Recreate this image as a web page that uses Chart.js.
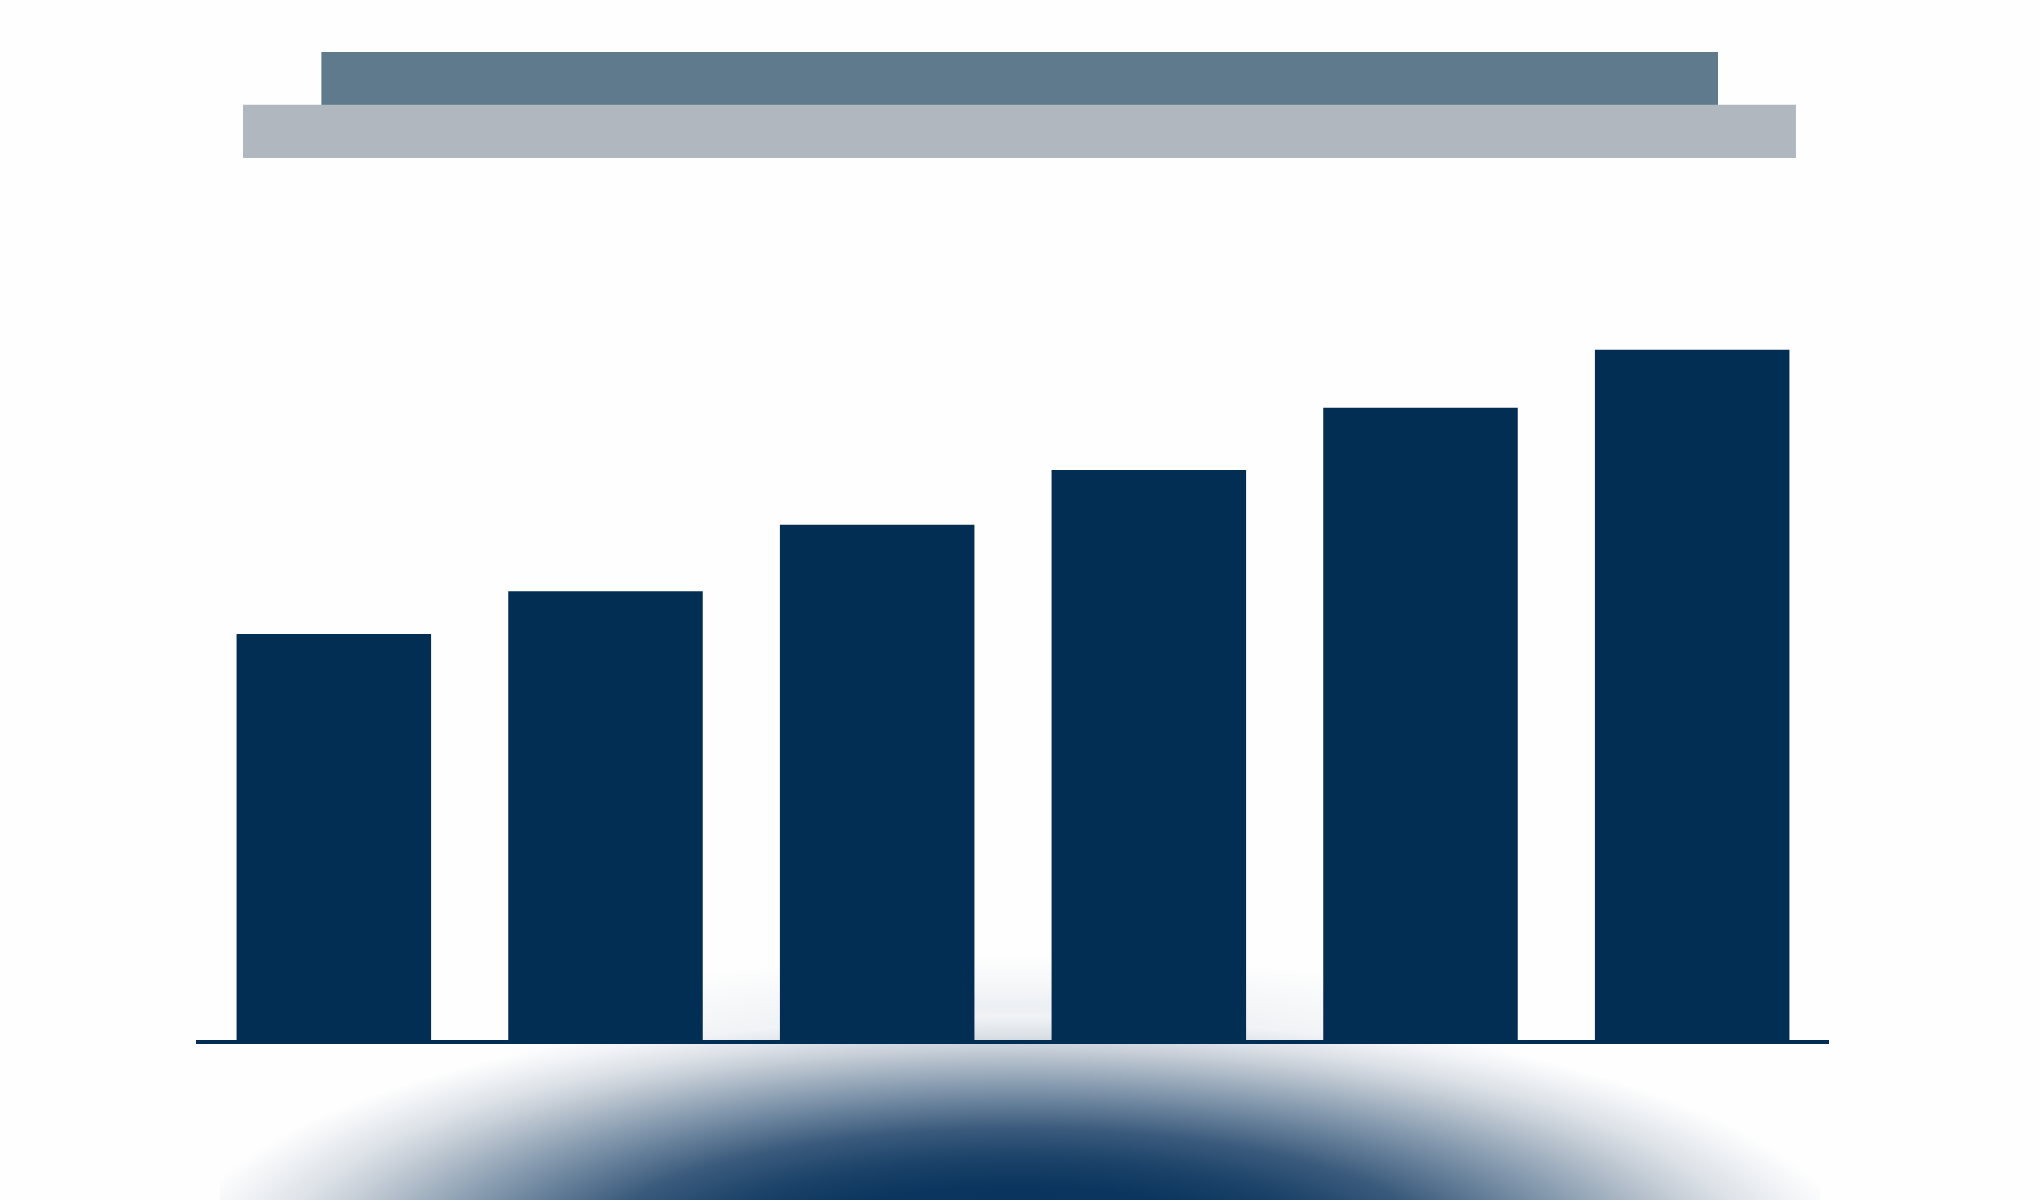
<!DOCTYPE html>
<html>
<head>
<meta charset="utf-8">
<script src="https://cdn.jsdelivr.net/npm/chart.js@4.4.1/dist/chart.umd.min.js"></script>
<style>
  html, body { margin: 0; padding: 0; background: #fefefe; }
  #page { position: relative; width: 2040px; height: 1200px; overflow: hidden; }
  #shadow {
    position: absolute; left: 220px; top: 900px; width: 1600px; height: 300px;
    background:
      radial-gradient(ellipse 845px 262px at 796px 365px,
        #08305a 0%, #0b355e 30%, #1c4369 41%, #3a5a7c 52%, #8398ad 68%,
        #c5cdd6 82%, #dde2e8 88%, #f1f3f6 95%, rgba(254,254,254,0) 100%),
      radial-gradient(ellipse 520px 85px at 796px 140px,
        rgba(205,213,223,0.75) 0%, rgba(225,230,236,0.4) 55%, rgba(254,254,254,0) 100%);
  }
  #bandChart { position: absolute; left: 0; top: 52px; }
  #barChart { position: absolute; left: 0; top: 0; }
</style>
</head>
<body>
<div id="page">
  <div id="shadow"></div>
  <canvas id="bandChart" width="2040" height="106"></canvas>
  <canvas id="barChart" width="2040" height="1200"></canvas>
</div>
<script>
// header bands (share of page width, start/end)
const bandLabels = ['upper', 'lower'];
const bandStart = [15.77, 11.93];
const bandEnd = [84.2, 88.02];
const bandColors = ['#5e7a8c', '#b0b7be'];

// main series
const categories = ['1', '2', '3', '4', '5', '6'];
const values = [58.3, 64.4, 73.9, 81.7, 90.6, 98.9];
const yMax = 100;

document.addEventListener('DOMContentLoaded', function() {
    // Header bands as floating horizontal bars
    const bandCtx = document.getElementById('bandChart').getContext('2d');
    new Chart(bandCtx, {
        type: 'bar',
        data: {
            labels: bandLabels,
            datasets: [{
                data: bandLabels.map((l, i) => [bandStart[i], bandEnd[i]]),
                backgroundColor: bandColors,
                borderWidth: 0,
                categoryPercentage: 1,
                barPercentage: 1
            }]
        },
        options: {
            indexAxis: 'y',
            responsive: false,
            animation: false,
            devicePixelRatio: 1,
            layout: { padding: 0 },
            plugins: { legend: { display: false }, tooltip: { enabled: false } },
            scales: {
                x: { display: false, min: 0, max: 100 },
                y: { display: false }
            }
        }
    });

    // Column chart
    const barCtx = document.getElementById('barChart').getContext('2d');
    new Chart(barCtx, {
        type: 'bar',
        data: {
            labels: categories,
            datasets: [{
                data: values,
                backgroundColor: '#032e54',
                borderWidth: 0,
                categoryPercentage: 1,
                barPercentage: 0.716
            }]
        },
        options: {
            responsive: false,
            animation: false,
            devicePixelRatio: 1,
            layout: { padding: { left: 198, right: 212, top: 342, bottom: 150 } },
            plugins: { legend: { display: false }, tooltip: { enabled: false } },
            scales: {
                x: {
                    grid: { display: false },
                    ticks: { display: false },
                    border: { display: true, color: '#032e54', width: 4 }
                },
                y: { display: false, min: 0, max: yMax }
            }
        }
    });
});
</script>
</body>
</html>
